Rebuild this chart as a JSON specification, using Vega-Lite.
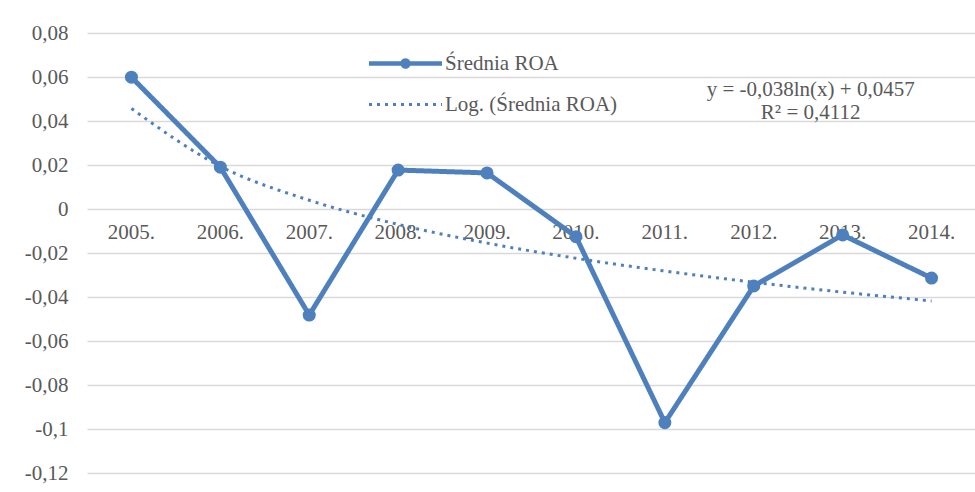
{
  "$schema": "https://vega.github.io/schema/vega-lite/v6.json",
  "width": 889,
  "height": 440,
  "autosize": {"type": "none"},
  "padding": {"left": 87, "top": 33, "right": 0, "bottom": 19},
  "background": "white",
  "config": {
    "view": {"stroke": null},
    "locale": {"number": {"decimal": ",", "thousands": " ", "grouping": [3], "currency": ["", " zł"], "minus": "-"}},
    "font": "Liberation Serif"
  },
  "datasets": {
    "main": [
      {"rok": "2005.", "seria": "Średnia ROA", "wartosc": 0.0599},
      {"rok": "2006.", "seria": "Średnia ROA", "wartosc": 0.0190},
      {"rok": "2007.", "seria": "Średnia ROA", "wartosc": -0.0482},
      {"rok": "2008.", "seria": "Średnia ROA", "wartosc": 0.0177},
      {"rok": "2009.", "seria": "Średnia ROA", "wartosc": 0.0164},
      {"rok": "2010.", "seria": "Średnia ROA", "wartosc": -0.0126},
      {"rok": "2011.", "seria": "Średnia ROA", "wartosc": -0.0971},
      {"rok": "2012.", "seria": "Średnia ROA", "wartosc": -0.0350},
      {"rok": "2013.", "seria": "Średnia ROA", "wartosc": -0.0118},
      {"rok": "2014.", "seria": "Średnia ROA", "wartosc": -0.0314},
      {"rok": "2005.", "seria": "Log. (Średnia ROA)", "wartosc": 0.0457},
      {"rok": "2006.", "seria": "Log. (Średnia ROA)", "wartosc": 0.0194},
      {"rok": "2007.", "seria": "Log. (Średnia ROA)", "wartosc": 0.0040},
      {"rok": "2008.", "seria": "Log. (Średnia ROA)", "wartosc": -0.0070},
      {"rok": "2009.", "seria": "Log. (Średnia ROA)", "wartosc": -0.0155},
      {"rok": "2010.", "seria": "Log. (Średnia ROA)", "wartosc": -0.0224},
      {"rok": "2011.", "seria": "Log. (Średnia ROA)", "wartosc": -0.0282},
      {"rok": "2012.", "seria": "Log. (Średnia ROA)", "wartosc": -0.0333},
      {"rok": "2013.", "seria": "Log. (Średnia ROA)", "wartosc": -0.0378},
      {"rok": "2014.", "seria": "Log. (Średnia ROA)", "wartosc": -0.0418}
    ],
    "eq": [
      {"tekst": ["y = -0,038ln(x) + 0,0457", "R² = 0,4112"], "rok": "2013.", "wartosc": 0.0543}
    ]
  },
  "data": {"name": "main"},
  "encoding": {
    "x": {"field": "rok", "type": "ordinal", "scale": {"type": "point", "padding": 0.5}, "axis": null},
    "y": {
      "field": "wartosc", "type": "quantitative",
      "scale": {"domain": [-0.12, 0.08], "nice": false, "zero": false},
      "axis": {
        "title": null,
        "values": [-0.12, -0.1, -0.08, -0.06, -0.04, -0.02, 0, 0.02, 0.04, 0.06, 0.08],
        "labelExpr": "format(datum.value, '.2~f')",
        "domain": false,
        "ticks": false,
        "grid": true,
        "gridColor": "#d9d9d9",
        "gridWidth": 1.3,
        "labelFont": "Liberation Serif",
        "labelFontSize": 21,
        "labelColor": "#595959",
        "labelPadding": 19
      }
    }
  },
  "layer": [
    {
      "transform": [{"filter": "datum.seria === 'Średnia ROA'"}],
      "mark": {"type": "text", "font": "Liberation Serif", "fontSize": 21, "color": "#595959", "baseline": "middle", "dy": 24},
      "encoding": {
        "y": {"datum": 0},
        "text": {"field": "rok"}
      }
    },
    {
      "transform": [{"filter": "datum.seria === 'Log. (Średnia ROA)'"}],
      "mark": {"type": "line", "interpolate": "monotone", "strokeWidth": 3},
      "encoding": {
        "color": {"field": "seria", "type": "nominal",
          "scale": {"domain": ["Średnia ROA", "Log. (Średnia ROA)"], "range": ["#4e80bd", "#4e80bd"]},
          "legend": {
            "title": null,
            "orient": "none",
            "legendX": 308,
            "legendY": 20,
            "direction": "vertical",
            "symbolSize": 400,
            "labelFont": "Liberation Serif",
            "labelFontSize": 21,
            "labelColor": "#595959",
            "labelOffset": 29,
            "labelLimit": 400,
            "rowPadding": 17,
            "padding": 0,
            "encode": {
              "symbols": {
                "update": {
                  "shape": {"signal": "datum.value === 'Średnia ROA' ? 'M-3.65,0H3.65M0.3,0A0.3,0.3,0,1,1,-0.3,0A0.3,0.3,0,1,1,0.3,0Z' : 'M-3.65,0H3.65'"},
                  "fill": {"signal": "datum.value === 'Średnia ROA' ? '#4e80bd' : 'transparent'"},
                  "strokeWidth": {"signal": "datum.value === 'Średnia ROA' ? 4.5 : 3"},
                  "opacity": {"value": 1}
                }
              }
            }
          }
        },
        "strokeDash": {"field": "seria", "type": "nominal",
          "scale": {"domain": ["Średnia ROA", "Log. (Średnia ROA)"], "range": [[1, 0], [3, 5]]}}
      }
    },
    {
      "transform": [{"filter": "datum.seria === 'Średnia ROA'"}],
      "mark": {"type": "line", "strokeWidth": 5},
      "encoding": {
        "color": {"field": "seria", "type": "nominal"},
        "strokeDash": {"field": "seria", "type": "nominal"}
      }
    },
    {
      "transform": [{"filter": "datum.seria === 'Średnia ROA'"}],
      "mark": {"type": "point", "filled": true, "size": 170, "color": "#4e80bd", "opacity": 1},
      "encoding": {}
    },
    {
      "data": {"name": "eq"},
      "mark": {"type": "text", "font": "Liberation Serif", "fontSize": 21, "color": "#595959", "align": "center", "baseline": "middle", "lineHeight": 23, "dx": -32},
      "encoding": {
        "text": {"field": "tekst"}
      }
    }
  ]
}
